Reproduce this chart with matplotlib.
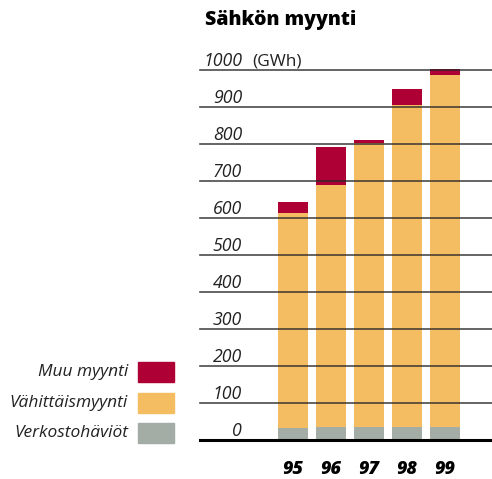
import matplotlib
matplotlib.use("Agg")
import matplotlib.pyplot as plt
from matplotlib.patches import Rectangle
from matplotlib.transforms import blended_transform_factory

plt.rcParams['font.family'] = ['Open Sans', 'DejaVu Sans']

# Data (GWh)
years = ['95', '96', '97', '98', '99']
verkostohaviot = [32, 35, 35, 35, 35]
vahittaismyynti = [581, 654, 767, 870, 951]
muu_myynti = [30, 102, 8, 43, 15]
ticks = [0, 100, 200, 300, 400, 500, 600, 700, 800, 900, 1000]

series = [('Muu myynti', '#AE0035'),
          ('Vähittäismyynti', '#F5BD62'),
          ('Verkostohäviöt', '#A3ADA5')]

W, H = 492, 479
fig = plt.figure(figsize=(W / 100, H / 100), dpi=100)

# axes: x pixel 200..492, y pixel 440 (0) .. 69.7 (1000)
ax = fig.add_axes([200 / W, (H - 440) / H, 292 / W, 370.3 / H])
ax.set_ylim(0, 1000)
ax.set_xlim(-(293 - 200) / 38, (492 - 293) / 38)
ax.axis('off')

x = list(range(len(years)))
bw = 30 / 38
ax.bar(x, verkostohaviot, bw, color=series[2][1], zorder=2, clip_on=False)
ax.bar(x, vahittaismyynti, bw, bottom=verkostohaviot, color=series[1][1],
       zorder=2, clip_on=False)
bottoms = [a + b for a, b in zip(verkostohaviot, vahittaismyynti)]
ax.bar(x, muu_myynti, bw, bottom=bottoms, color=series[0][1], zorder=2,
       clip_on=False)

tr = blended_transform_factory(fig.transFigure, ax.transData)
for t in ticks:
    if t == 0:
        ax.axhline(t, color='black', lw=2.2, zorder=3, clip_on=False)
    else:
        ax.axhline(t, color='#2a2a2a', lw=1.2, alpha=0.85, zorder=3,
                   clip_on=False)
    fig.text(242 / W, t + 11, str(t), transform=tr, ha='right',
             va='baseline', fontsize=12.8, style='italic', color='#222222')
fig.text(252 / W, 1011, '(GWh)', transform=tr, ha='left', va='baseline',
         fontsize=12.5, color='#222222')

for xi, lab in enumerate(years):
    fig.text((293 + 38 * xi) / W, (H - 470) / H, lab, ha='center',
             va='center', fontsize=13, fontweight='heavy', style='italic')

fig.text(205 / W, (H - 20) / H, 'Sähkön myynti', ha='left', va='center',
         fontsize=14, fontweight='heavy')

# legend
for i, (name, col) in enumerate(series):
    yc = [372, 403, 433][i]
    fig.add_artist(Rectangle((138 / W, (H - yc - 10) / H), 36 / W, 20 / H,
                             transform=fig.transFigure, color=col))
    fig.text(128 / W, (H - yc) / H, name, ha='right', va='center',
             fontsize=12.5, style='italic', color='#222222')

fig.savefig('out.png', dpi=100)
